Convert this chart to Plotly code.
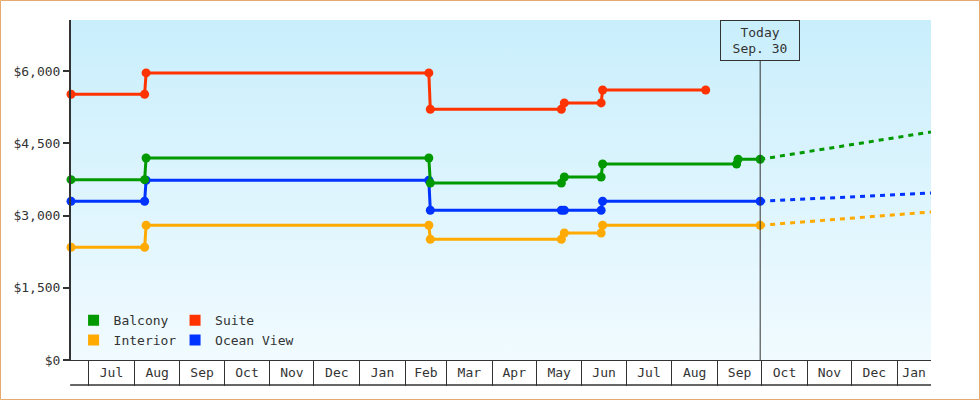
import pandas as pd
import plotly.graph_objects as go

# visible date range and "today"
start = "2013-06-19"
end = "2015-01-24"
today = "2014-09-30"

balcony_dates = ["2013-06-19", "2013-08-08", "2013-08-09", "2014-02-17", "2014-02-18",
                 "2014-05-18", "2014-05-20", "2014-06-14", "2014-06-15", "2014-09-14",
                 "2014-09-15", "2014-09-30"]
balcony_prices = [3745, 3745, 4195, 4195, 3676, 3676, 3801, 3801, 4071, 4071, 4168, 4168]

suite_dates = ["2013-06-19", "2013-08-08", "2013-08-09", "2014-02-17", "2014-02-18",
               "2014-05-18", "2014-05-20", "2014-06-14", "2014-06-15", "2014-08-24"]
suite_prices = [5518, 5518, 5961, 5961, 5207, 5207, 5338, 5338, 5607, 5607]

interior_dates = ["2013-06-19", "2013-08-08", "2013-08-09", "2014-02-17", "2014-02-18",
                  "2014-05-18", "2014-05-20", "2014-06-14", "2014-06-15", "2014-09-30"]
interior_prices = [2341, 2341, 2797, 2797, 2507, 2507, 2638, 2638, 2797, 2797]

ocean_dates = ["2013-06-19", "2013-08-08", "2013-08-09", "2014-02-17", "2014-02-18",
               "2014-05-18", "2014-05-20", "2014-06-14", "2014-06-15", "2014-09-30"]
ocean_prices = [3296, 3296, 3732, 3732, 3109, 3109, 3109, 3109, 3296, 3296]

# projected price at the end of the range (dashed, from today)
forecast_names = ["Interior", "Ocean View", "Balcony"]
forecast_end = [3074, 3468, 4735]

y_ticks = [0, 1500, 3000, 4500, 6000]
y_max = 7060

colors = {
    "Balcony": "#009900",
    "Suite": "#ff3300",
    "Interior": "#ffaa00",
    "Ocean View": "#0033ff",
}
series = {
    "Interior": (interior_dates, interior_prices),
    "Ocean View": (ocean_dates, ocean_prices),
    "Balcony": (balcony_dates, balcony_prices),
    "Suite": (suite_dates, suite_prices),
}

font = "DejaVu Sans Mono"
ink = "#333333"

# month cells along the x axis
month_starts = pd.date_range(start, end, freq="MS")
edges = [pd.Timestamp(start)] + list(month_starts) + [pd.Timestamp(end)]
label_vals, label_text = [], []
for a, b in zip(edges[:-1], edges[1:]):
    if (b - a).days >= 20:
        label_vals.append(a + (b - a) / 2)
        label_text.append(a.strftime("%b"))

fig = go.Figure()

# gradient background
fig.add_trace(go.Scatter(
    x=[start, end, end, start], y=[0, 0, y_max, y_max],
    mode="none", fill="toself", showlegend=False, hoverinfo="skip",
    fillgradient=dict(type="vertical", colorscale=[[0, "#f1fbff"], [1, "#c9eefc"]]),
))

for name, last in zip(forecast_names, forecast_end):
    dates, prices = series[name]
    fig.add_trace(go.Scatter(
        x=[today, end], y=[prices[-1], last],
        mode="lines", line=dict(color=colors[name], width=3, dash="5px,5px"),
        showlegend=False, hoverinfo="skip",
    ))

for name, (dates, prices) in series.items():
    fig.add_trace(go.Scatter(
        x=dates, y=prices, mode="lines+markers", name=name,
        line=dict(color=colors[name], width=3),
        marker=dict(size=9, color=colors[name]),
        cliponaxis=False, showlegend=False,
    ))

# legend swatches (two columns)
for name, leg in [("Balcony", "legend"), ("Interior", "legend"),
                  ("Suite", "legend2"), ("Ocean View", "legend2")]:
    fig.add_trace(go.Scatter(
        x=[None], y=[None], mode="markers", name=name, legend=leg,
        marker=dict(symbol="square", size=11, color=colors[name]),
    ))

legend_style = dict(
    yanchor="top", y=0.161, xanchor="left", bgcolor="rgba(0,0,0,0)",
    font=dict(family=font, size=13, color=ink), tracegroupgap=0,
)

fig.update_layout(
    width=980, height=400,
    margin=dict(l=71, r=49, t=20, b=40),
    paper_bgcolor="white", plot_bgcolor="white",
    font=dict(family=font, size=13, color=ink),
    legend=dict(x=0.003, **legend_style),
    legend2=dict(x=0.121, **legend_style),
    xaxis=dict(
        type="date", range=[start, end], showgrid=False, zeroline=False,
        showline=True, linecolor=ink, linewidth=1,
        tickmode="array", tickvals=label_vals, ticktext=label_text, ticks="",
        minor=dict(tickmode="array", tickvals=list(month_starts), ticks="outside",
                   ticklen=25, tickcolor=ink, tickwidth=1, showgrid=False),
    ),
    yaxis=dict(
        range=[0, y_max], showgrid=False, zeroline=False,
        showline=True, linecolor=ink, linewidth=2,
        tickmode="array", tickvals=y_ticks, ticktext=["${:,}".format(v) for v in y_ticks],
        ticks="outside", ticklen=6, tickcolor=ink, tickwidth=1.5,
    ),
)

# "today" marker
fig.add_shape(type="line", xref="x", yref="paper", x0=today, x1=today, y0=0, y1=0.88,
              line=dict(color=ink, width=1))
fig.add_annotation(
    x=today, xref="x", y=1, yref="paper", yanchor="top", showarrow=False,
    text="Today<br>Sep. 30", font=dict(family=font, size=13, color=ink),
    bordercolor=ink, borderwidth=1, borderpad=3, width=72, height=33,
)

# line under the month cells
fig.add_shape(type="line", xref="paper", yref="paper", x0=-0.001, x1=1, y0=-25 / 340, y1=-25 / 340,
              line=dict(color=ink, width=1.5))

# outer frame
fig.add_shape(type="rect", xref="paper", yref="paper",
              x0=-70.5 / 860, x1=908.5 / 860, y0=-39.5 / 340, y1=359.5 / 340,
              line=dict(color="#e6aa6e", width=1))

fig.write_html("out.html", config={"displayModeBar": False},
               post_script="document.body.style.margin = '0';")
